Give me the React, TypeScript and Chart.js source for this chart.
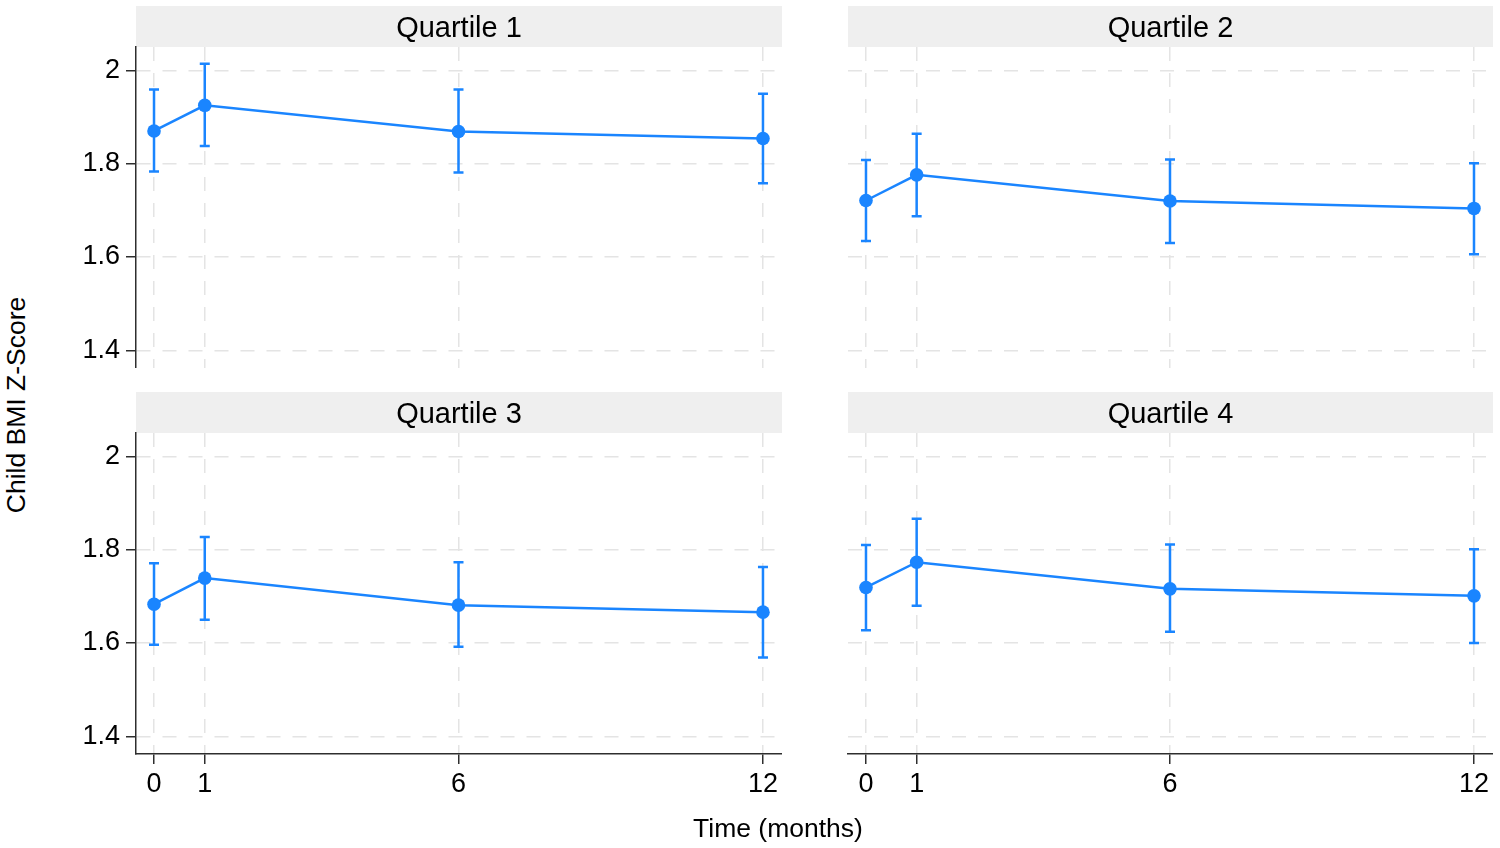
import React, { useEffect, useRef } from "react";
import { Chart, registerables } from "chart.js";

Chart.register(...registerables);

// ---------- data ----------
const timepoints = [0, 1, 6, 12];
const xTicks = [0, 1, 6, 12];
const yTicks = [1.4, 1.6, 1.8, 2];
const panelTitles = ["Quartile 1", "Quartile 2", "Quartile 3", "Quartile 4"];

const q1Mean = [1.87, 1.925, 1.869, 1.854];
const q1Lower = [1.783, 1.838, 1.781, 1.758];
const q1Upper = [1.959, 2.014, 1.959, 1.95];

const q2Mean = [1.721, 1.776, 1.72, 1.704];
const q2Lower = [1.634, 1.687, 1.63, 1.606];
const q2Upper = [1.808, 1.864, 1.809, 1.801];

const q3Mean = [1.683, 1.739, 1.681, 1.666];
const q3Lower = [1.596, 1.65, 1.592, 1.569];
const q3Upper = [1.771, 1.827, 1.773, 1.763];

const q4Mean = [1.719, 1.773, 1.716, 1.701];
const q4Lower = [1.627, 1.68, 1.624, 1.6];
const q4Upper = [1.81, 1.866, 1.811, 1.801];

const xTitle = "Time (months)";
const yTitle = "Child BMI Z-Score";

// ---------- style ----------
const BLUE = "#1a85ff";
const FONT = "'Liberation Sans', Arial, Helvetica, sans-serif";
const TEXT = "#000000";
const GRID = "#e4e4e4";
const AXIS = "#2e2e2e";

const headerPlugin = {
  id: "facetHeader",
  beforeDraw(chart: any) {
    const { ctx, chartArea } = chart;
    const tb = chart.titleBlock;
    const top = tb ? tb.top : 0;
    ctx.save();
    ctx.fillStyle = "#efefef";
    ctx.fillRect(chartArea.left, top, chartArea.right - chartArea.left, chartArea.top - top);
    ctx.restore();
  },
};

const errorBarPlugin = {
  id: "errorBars",
  beforeDatasetsDraw(chart: any) {
    const { ctx } = chart;
    const x = chart.scales.x;
    const y = chart.scales.y;
    chart.data.datasets.forEach((ds: any) => {
      const lo: number[] = ds.lower;
      const hi: number[] = ds.upper;
      if (!lo || !hi) return;
      ctx.save();
      ctx.strokeStyle = BLUE;
      ctx.lineWidth = 2.5;
      ctx.lineCap = "butt";
      ds.data.forEach((p: any, i: number) => {
        const px = x.getPixelForValue(p.x);
        const yl = y.getPixelForValue(lo[i]);
        const yh = y.getPixelForValue(hi[i]);
        ctx.beginPath();
        ctx.moveTo(px, yl);
        ctx.lineTo(px, yh);
        ctx.moveTo(px - 5, yl);
        ctx.lineTo(px + 5, yl);
        ctx.moveTo(px - 5, yh);
        ctx.lineTo(px + 5, yh);
        ctx.stroke();
      });
      ctx.restore();
    });
  },
};

type PanelProps = {
  title: string;
  mean: number[];
  lower: number[];
  upper: number[];
  showY: boolean;
  showX: boolean;
  left: number;
  top: number;
  width: number;
  height: number;
};

function Panel(props: PanelProps) {
  const ref = useRef<HTMLCanvasElement | null>(null);
  useEffect(() => {
    if (!ref.current) return;
    const { showX, showY } = props;
    const chart = new Chart(ref.current, {
      type: "line",
      data: {
        datasets: [
          {
            data: timepoints.map((t, i) => ({ x: t, y: props.mean[i] })),
            lower: props.lower,
            upper: props.upper,
            borderColor: BLUE,
            borderWidth: 2.5,
            backgroundColor: BLUE,
            pointBackgroundColor: BLUE,
            pointBorderWidth: 0,
            pointRadius: 6.8,
            pointHoverRadius: 6.8,
            tension: 0,
            fill: false,
            clip: false,
          } as any,
        ],
      },
      options: {
        responsive: false,
        animation: false,
        events: [],
        layout: { padding: 0, autoPadding: false } as any,
        plugins: {
          legend: { display: false },
          tooltip: { enabled: false },
          title: {
            display: true,
            text: props.title,
            fullSize: false,
            color: TEXT,
            font: { family: FONT, size: 29, weight: "normal", lineHeight: 1.2 },
            padding: { top: 5.6, bottom: 0.6 },
          } as any,
        },
        scales: {
          x: {
            type: "linear",
            min: -0.355,
            max: 12.375,
            afterBuildTicks: (s: any) => {
              s.ticks = xTicks.map((v) => ({ value: v }));
            },
            afterFit: (s: any) => {
              s.height = showX ? 60 : 0;
              s.paddingLeft = 0;
              s.paddingRight = 0;
            },
            grid: {
              color: GRID,
              lineWidth: 1.5,
              drawTicks: showX,
              tickLength: 10,
              tickColor: AXIS,
              tickWidth: 1.5,
              tickBorderDash: [],
            } as any,
            border: { display: showX, color: AXIS, width: 1.5, dash: [14, 12] } as any,
            ticks: {
              display: showX,
              padding: 4,
              color: TEXT,
              font: { family: FONT, size: 27 },
              maxRotation: 0,
              autoSkip: false,
              callback: (v: any) => String(v),
            },
          },
          y: {
            type: "linear",
            min: 1.362,
            max: 2.05,
            afterBuildTicks: (s: any) => {
              s.ticks = yTicks.map((v) => ({ value: v }));
            },
            afterFit: (s: any) => {
              s.width = 76;
              s.paddingTop = 0;
              s.paddingBottom = 0;
            },
            grid: {
              color: GRID,
              lineWidth: 1.5,
              drawTicks: showY,
              tickLength: 10,
              tickColor: AXIS,
              tickWidth: 1.5,
              tickBorderDash: [],
            } as any,
            border: { display: showY, color: AXIS, width: 1.5, dash: [14, 12] } as any,
            ticks: {
              display: showY,
              padding: 6,
              color: TEXT,
              font: { family: FONT, size: 27 },
              autoSkip: false,
              callback: (v: any) => String(v),
            },
          },
        },
      },
      plugins: [headerPlugin, errorBarPlugin],
    } as any);
    return () => chart.destroy();
  }, []);
  return (
    <canvas
      ref={ref}
      width={props.width}
      height={props.height}
      style={{
        position: "absolute",
        left: props.left,
        top: props.top,
        width: props.width,
        height: props.height,
      }}
    />
  );
}

export default function App() {
  return (
    <div
      style={{
        position: "fixed",
        left: 0,
        top: 0,
        width: 1500,
        height: 848,
        background: "#ffffff",
        overflow: "hidden",
        fontFamily: FONT,
      }}
    >
      <Panel title={panelTitles[0]} mean={q1Mean} lower={q1Lower} upper={q1Upper} showY={true} showX={false} left={60} top={6} width={722} height={362} />
      <Panel title={panelTitles[1]} mean={q2Mean} lower={q2Lower} upper={q2Upper} showY={false} showX={false} left={772} top={6} width={721} height={362} />
      <Panel title={panelTitles[2]} mean={q3Mean} lower={q3Lower} upper={q3Upper} showY={true} showX={true} left={60} top={392} width={722} height={422} />
      <Panel title={panelTitles[3]} mean={q4Mean} lower={q4Lower} upper={q4Upper} showY={false} showX={true} left={772} top={392} width={721} height={422} />
      <div
        style={{
          position: "absolute",
          left: 778,
          top: 828,
          transform: "translate(-50%, -50%)",
          fontSize: 26.5,
          color: TEXT,
          whiteSpace: "nowrap",
        }}
      >
        {xTitle}
      </div>
      <div
        style={{
          position: "absolute",
          left: 16,
          top: 405,
          transform: "translate(-50%, -50%) rotate(-90deg)",
          fontSize: 26.5,
          color: TEXT,
          whiteSpace: "nowrap",
        }}
      >
        {yTitle}
      </div>
    </div>
  );
}
